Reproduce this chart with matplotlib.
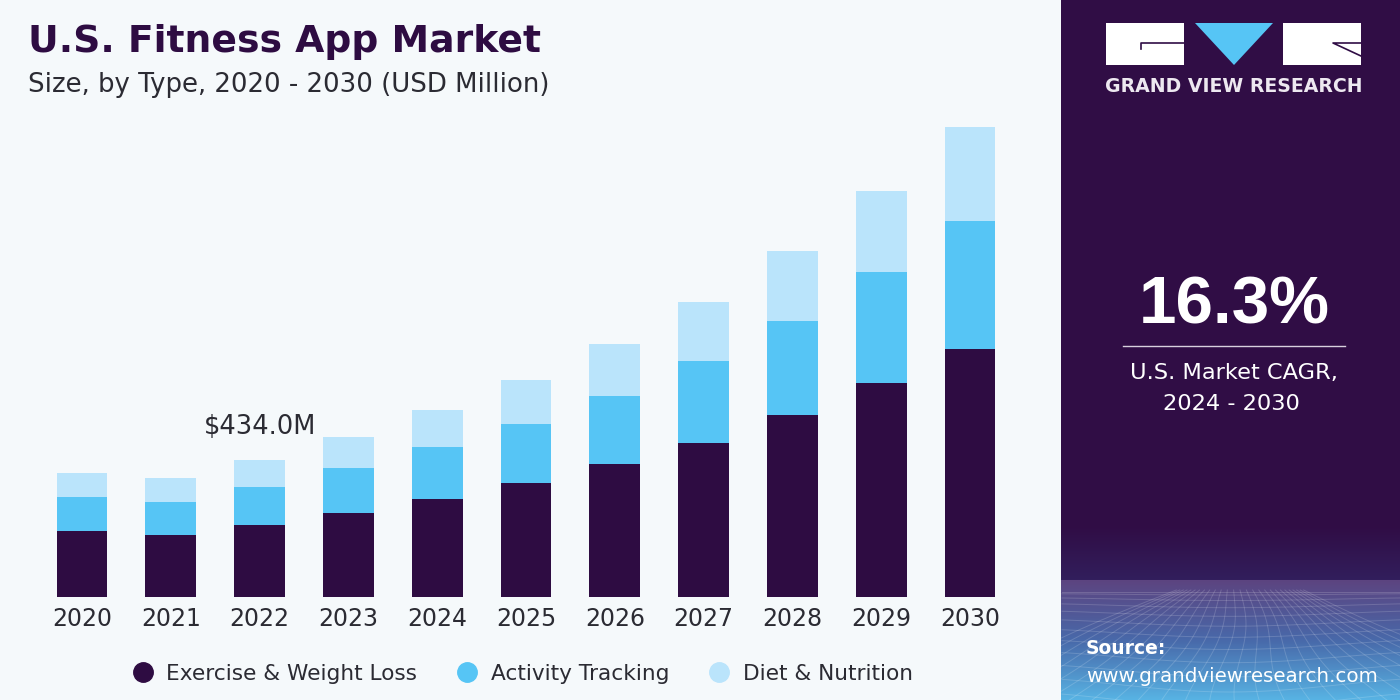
import numpy as np
import matplotlib
matplotlib.use('Agg')
import matplotlib.pyplot as plt
from matplotlib.lines import Line2D
from matplotlib.patches import Polygon, Rectangle

years = ['2020', '2021', '2022', '2023', '2024', '2025', '2026', '2027', '2028', '2029', '2030']
exercise = [209, 196, 228, 266, 310, 361, 421, 488, 577, 678, 786]
activity = [108, 105, 120, 143, 165, 187, 215, 260, 298, 352, 405]
diet = [76, 76, 86, 98, 117, 139, 165, 187, 222, 257, 298]
series_names = ['Exercise & Weight Loss', 'Activity Tracking', 'Diet & Nutrition']

dark = '#2E0C42'
blue = '#56C5F5'
light = '#BAE4FB'
panel = '#300D45'
bg = '#F5F9FB'
text_col = '#2B2B33'

plt.rcParams['font.family'] = ['DejaVu Sans']

fig = plt.figure(figsize=(14, 7), dpi=100, facecolor=bg)

# full figure axes in pixels, for the side panel and the headings
bg_ax = fig.add_axes([0, 0, 1, 1])
bg_ax.axis('off')

bg_ax.add_patch(Rectangle((1061, 0), 339, 700, color=panel, lw=0))

# gradient at the foot of the panel
stops_y = [525, 579, 580, 640, 700]
stops_r = [48, 50, 92, 72, 88]
stops_g = [13, 30, 68, 105, 180]
stops_b = [69, 92, 128, 170, 228]
grad_y = np.arange(525, 700)
grad = np.zeros((len(grad_y), 1, 3))
grad[:, 0, 0] = np.interp(grad_y, stops_y, stops_r) / 255
grad[:, 0, 1] = np.interp(grad_y, stops_y, stops_g) / 255
grad[:, 0, 2] = np.interp(grad_y, stops_y, stops_b) / 255
bg_ax.imshow(grad, extent=(1061, 1400, 700, 525), aspect='auto', zorder=1)

# mesh texture
for k in np.linspace(-1.6, 1.6, 27):
    yy = np.linspace(590, 700, 30)
    xx = 1240 + k * 40 * (1 + (yy - 590) / 28) + 6 * np.sin((yy - 590) / 22 + k * 2)
    bg_ax.plot(xx, yy, color='white', lw=0.7, alpha=0.16, zorder=2)
for t in np.linspace(0, 1, 12):
    xx = np.linspace(1062, 1400, 60)
    yy = 592 + 108 * t ** 1.6 + 8 * t * np.cos((xx - 1230) / 70)
    bg_ax.plot(xx, yy, color='white', lw=0.7, alpha=0.16, zorder=2)
bg_ax.set_xlim(0, 1400)
bg_ax.set_ylim(700, 0)

# logo
bg_ax.add_patch(Rectangle((1106, 23), 78, 42, color='white', lw=0, zorder=3))
bg_ax.add_patch(Rectangle((1283, 23), 78, 42, color='white', lw=0, zorder=3))
bg_ax.add_patch(Polygon([(1195, 23), (1273, 23), (1234, 65)], color=blue, lw=0, zorder=3))
bg_ax.plot([1184, 1141, 1141], [43, 43, 49], color=panel, lw=1.2, zorder=4)
bg_ax.plot([1361, 1333, 1361], [43, 43, 56], color=panel, lw=1.2, zorder=4)
bg_ax.text(1233.5, 87, 'GRAND VIEW RESEARCH', color='#EDE8F0', fontsize=13.6, fontweight='bold',
           ha='center', va='center', zorder=4)

# side panel figures
bg_ax.text(1234, 307, '16.3%', color='white', fontsize=48.5, fontweight='bold',
           ha='center', va='center', family=['Liberation Sans'], zorder=4)
bg_ax.plot([1123, 1345], [346, 346], color='#D8D0DE', lw=1, zorder=4)
bg_ax.text(1234, 373, 'U.S. Market CAGR,', color='white', fontsize=16.2, ha='center', va='center', zorder=4)
bg_ax.text(1231, 404, '2024 - 2030', color='white', fontsize=16.2, ha='center', va='center', zorder=4)
bg_ax.text(1086, 648, 'Source:', color='white', fontsize=13.5, fontweight='bold', ha='left', va='center', zorder=4)
bg_ax.text(1086, 676, 'www.grandviewresearch.com', color='white', fontsize=14.3, ha='left', va='center', zorder=4)

# headings
bg_ax.text(28, 42, 'U.S. Fitness App Market', color=dark, fontsize=27.2, fontweight='bold',
           ha='left', va='center')
bg_ax.text(28, 85, 'Size, by Type, 2020 - 2030 (USD Million)', color=text_col, fontsize=18.7,
           ha='left', va='center')

# chart, 88.8 px per category and 3.168 USD M per px
ax = fig.add_axes([37.6 / 1400, (700 - 597) / 700, 976.8 / 1400, 497 / 700])
ax.patch.set_alpha(0)
x = np.arange(len(years))
exercise = np.array(exercise)
activity = np.array(activity)
diet = np.array(diet)
ax.bar(x, exercise, width=0.574, color=dark)
ax.bar(x, activity, width=0.574, bottom=exercise, color=blue)
ax.bar(x, diet, width=0.574, bottom=exercise + activity, color=light)
ax.set_xlim(-0.5, 10.5)
ax.set_ylim(0, 1574.5)
ax.set_xticks(x, years)
ax.tick_params(axis='x', length=0, pad=7, labelsize=17, labelcolor=text_col)
ax.set_yticks([])
for s in ax.spines.values():
    s.set_visible(False)

ax.text(2, 434 + 62, '$434.0M', color=text_col, fontsize=18.5, ha='center', va='bottom')

handles = [Line2D([], [], marker='o', ls='', ms=14, color=c) for c in [dark, blue, light]]
fig.legend(handles, series_names, loc='center left', bbox_to_anchor=(121 / 1400, (700 - 674) / 700),
           ncol=3, frameon=False, fontsize=15.6, labelcolor=text_col, handletextpad=0.1,
           columnspacing=1.3, borderaxespad=0, borderpad=0)

fig.savefig('out.png', dpi=100, facecolor=bg)
